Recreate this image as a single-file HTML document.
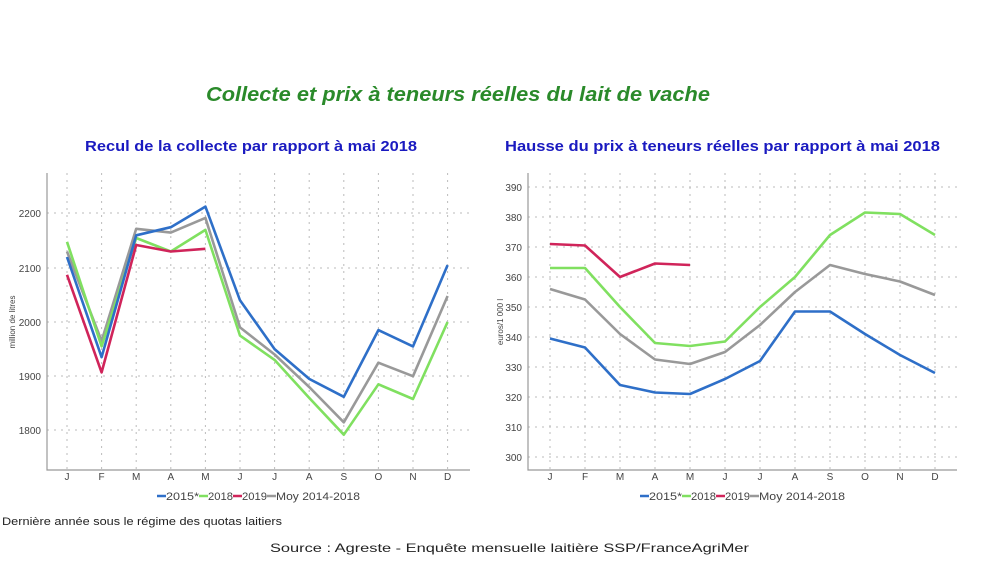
<!DOCTYPE html>
<html><head><meta charset="utf-8"><style>
html,body{margin:0;padding:0;background:#fff;}
svg{display:block;}
text{font-family:"Liberation Sans",sans-serif;}
</style></head><body>
<svg width="1000" height="561" viewBox="0 0 1000 561" xmlns="http://www.w3.org/2000/svg">
<text x="206" y="101" font-size="20" font-weight="bold" font-style="italic" fill="#2a8a2a" textLength="504" lengthAdjust="spacingAndGlyphs">Collecte et prix à teneurs réelles du lait de vache</text>
<text x="85" y="151" font-size="15" font-weight="bold" fill="#1a1ac0" textLength="332" lengthAdjust="spacingAndGlyphs">Recul de la collecte par rapport à mai 2018</text>
<text x="505" y="151" font-size="15" font-weight="bold" fill="#1a1ac0" textLength="435" lengthAdjust="spacingAndGlyphs">Hausse du prix à teneurs réelles par rapport à mai 2018</text>

<!-- LEFT CHART -->
<g stroke="#bbb" stroke-width="1" stroke-dasharray="2,5">
<line x1="47" x2="470" y1="213" y2="213"/><line x1="47" x2="470" y1="268" y2="268"/><line x1="47" x2="470" y1="322" y2="322"/><line x1="47" x2="470" y1="376" y2="376"/><line x1="47" x2="470" y1="430" y2="430"/>
<line x1="67" x2="67" y1="173" y2="470"/><line x1="101.6" x2="101.6" y1="173" y2="470"/><line x1="136.2" x2="136.2" y1="173" y2="470"/><line x1="170.8" x2="170.8" y1="173" y2="470"/><line x1="205.4" x2="205.4" y1="173" y2="470"/><line x1="240" x2="240" y1="173" y2="470"/><line x1="274.6" x2="274.6" y1="173" y2="470"/><line x1="309.2" x2="309.2" y1="173" y2="470"/><line x1="343.8" x2="343.8" y1="173" y2="470"/><line x1="378.4" x2="378.4" y1="173" y2="470"/><line x1="413" x2="413" y1="173" y2="470"/><line x1="447.6" x2="447.6" y1="173" y2="470"/>
</g>
<polyline points="47,173 47,470 470,470" fill="none" stroke="#999" stroke-width="1.2"/>
<g font-size="10" fill="#444" text-anchor="end">
<text x="41" y="217">2200</text><text x="41" y="272">2100</text><text x="41" y="326">2000</text><text x="41" y="380">1900</text><text x="41" y="434">1800</text>
</g>
<text transform="translate(15,322) rotate(-90)" font-size="8" fill="#444" text-anchor="middle">million de litres</text>
<g font-size="10" fill="#444" text-anchor="middle">
<text x="67" y="480">J</text><text x="101.6" y="480">F</text><text x="136.2" y="480">M</text><text x="170.8" y="480">A</text><text x="205.4" y="480">M</text><text x="240" y="480">J</text><text x="274.6" y="480">J</text><text x="309.2" y="480">A</text><text x="343.8" y="480">S</text><text x="378.4" y="480">O</text><text x="413" y="480">N</text><text x="447.6" y="480">D</text>
</g>
<g fill="none" stroke-width="2.6" stroke-linejoin="round">
<polyline stroke="#999" points="67,251.5 101.6,341 136.2,228.8 170.8,232.6 205.4,217.9 240,327.4 274.6,354.5 309.2,387 343.8,422.3 378.4,362.7 413,376.2 447.6,296"/>
<polyline stroke="#80e060" points="67,241.8 101.6,346.4 136.2,238 170.8,251.5 205.4,229.9 240,335.6 274.6,359.9 309.2,397.9 343.8,434.7 378.4,384.3 413,399 447.6,322"/>
<polyline stroke="#2e6fc8" points="67,257 101.6,357.2 136.2,235.3 170.8,227.2 205.4,206.6 240,300.3 274.6,349.1 309.2,378.9 343.8,396.8 378.4,330.1 413,346.4 447.6,265.1"/>
<polyline stroke="#d0245a" points="67,274.8 101.6,372.4 136.2,245 170.8,251.5 205.4,248.8"/>
</g>
<g font-size="11" fill="#444">
<line x1="157" x2="166" y1="496" y2="496" stroke="#2e6fc8" stroke-width="2.5"/><text x="166" y="500" textLength="33" lengthAdjust="spacingAndGlyphs">2015*</text>
<line x1="199" x2="208" y1="496" y2="496" stroke="#80e060" stroke-width="2.5"/><text x="208" y="500" textLength="25" lengthAdjust="spacingAndGlyphs">2018</text>
<line x1="233" x2="242" y1="496" y2="496" stroke="#d0245a" stroke-width="2.5"/><text x="242" y="500" textLength="25" lengthAdjust="spacingAndGlyphs">2019</text>
<line x1="267" x2="276" y1="496" y2="496" stroke="#999" stroke-width="2.5"/><text x="276" y="500" textLength="84" lengthAdjust="spacingAndGlyphs">Moy 2014-2018</text>
</g>

<!-- RIGHT CHART -->
<g stroke="#bbb" stroke-width="1" stroke-dasharray="2,5">
<line x1="528" x2="957" y1="187" y2="187"/><line x1="528" x2="957" y1="217" y2="217"/><line x1="528" x2="957" y1="247" y2="247"/><line x1="528" x2="957" y1="277" y2="277"/><line x1="528" x2="957" y1="307" y2="307"/><line x1="528" x2="957" y1="337" y2="337"/><line x1="528" x2="957" y1="367" y2="367"/><line x1="528" x2="957" y1="397" y2="397"/><line x1="528" x2="957" y1="427" y2="427"/><line x1="528" x2="957" y1="457" y2="457"/>
<line x1="550" x2="550" y1="173" y2="470"/><line x1="585" x2="585" y1="173" y2="470"/><line x1="620" x2="620" y1="173" y2="470"/><line x1="655" x2="655" y1="173" y2="470"/><line x1="690" x2="690" y1="173" y2="470"/><line x1="725" x2="725" y1="173" y2="470"/><line x1="760" x2="760" y1="173" y2="470"/><line x1="795" x2="795" y1="173" y2="470"/><line x1="830" x2="830" y1="173" y2="470"/><line x1="865" x2="865" y1="173" y2="470"/><line x1="900" x2="900" y1="173" y2="470"/><line x1="935" x2="935" y1="173" y2="470"/>
</g>
<polyline points="528,173 528,470 957,470" fill="none" stroke="#999" stroke-width="1.2"/>
<g font-size="10" fill="#444" text-anchor="end">
<text x="522" y="191">390</text><text x="522" y="221">380</text><text x="522" y="251">370</text><text x="522" y="281">360</text><text x="522" y="311">350</text><text x="522" y="341">340</text><text x="522" y="371">330</text><text x="522" y="401">320</text><text x="522" y="431">310</text><text x="522" y="461">300</text>
</g>
<text transform="translate(503,322) rotate(-90)" font-size="8" fill="#444" text-anchor="middle">euros/1 000 l</text>
<g font-size="10" fill="#444" text-anchor="middle">
<text x="550" y="480">J</text><text x="585" y="480">F</text><text x="620" y="480">M</text><text x="655" y="480">A</text><text x="690" y="480">M</text><text x="725" y="480">J</text><text x="760" y="480">J</text><text x="795" y="480">A</text><text x="830" y="480">S</text><text x="865" y="480">O</text><text x="900" y="480">N</text><text x="935" y="480">D</text>
</g>
<g fill="none" stroke-width="2.6" stroke-linejoin="round">
<polyline stroke="#999" points="550,289 585,299.5 620,334 655,359.5 690,364 725,352 760,325 795,292 830,265 865,274 900,281.5 935,295"/>
<polyline stroke="#80e060" points="550,268 585,268 620,307 655,343 690,346 725,341.5 760,307 795,277 830,235 865,212.5 900,214 935,235"/>
<polyline stroke="#2e6fc8" points="550,338.5 585,347.5 620,385 655,392.5 690,394 725,379 760,361 795,311.5 830,311.5 865,334 900,355 935,373"/>
<polyline stroke="#d0245a" points="550,244 585,245.5 620,277 655,263.5 690,265"/>
</g>
<g font-size="11" fill="#444">
<line x1="640" x2="649" y1="496" y2="496" stroke="#2e6fc8" stroke-width="2.5"/><text x="649" y="500" textLength="33" lengthAdjust="spacingAndGlyphs">2015*</text>
<line x1="682" x2="691" y1="496" y2="496" stroke="#80e060" stroke-width="2.5"/><text x="691" y="500" textLength="25" lengthAdjust="spacingAndGlyphs">2018</text>
<line x1="716" x2="725" y1="496" y2="496" stroke="#d0245a" stroke-width="2.5"/><text x="725" y="500" textLength="25" lengthAdjust="spacingAndGlyphs">2019</text>
<line x1="750" x2="759" y1="496" y2="496" stroke="#999" stroke-width="2.5"/><text x="759" y="500" textLength="86" lengthAdjust="spacingAndGlyphs">Moy 2014-2018</text>
</g>

<text x="2" y="525" font-size="11" fill="#222" textLength="280" lengthAdjust="spacingAndGlyphs">Dernière année sous le régime des quotas laitiers</text>
<text x="270" y="552" font-size="12" fill="#222" textLength="479" lengthAdjust="spacingAndGlyphs">Source : Agreste - Enquête mensuelle laitière SSP/FranceAgriMer</text>
</svg>
</body></html>
